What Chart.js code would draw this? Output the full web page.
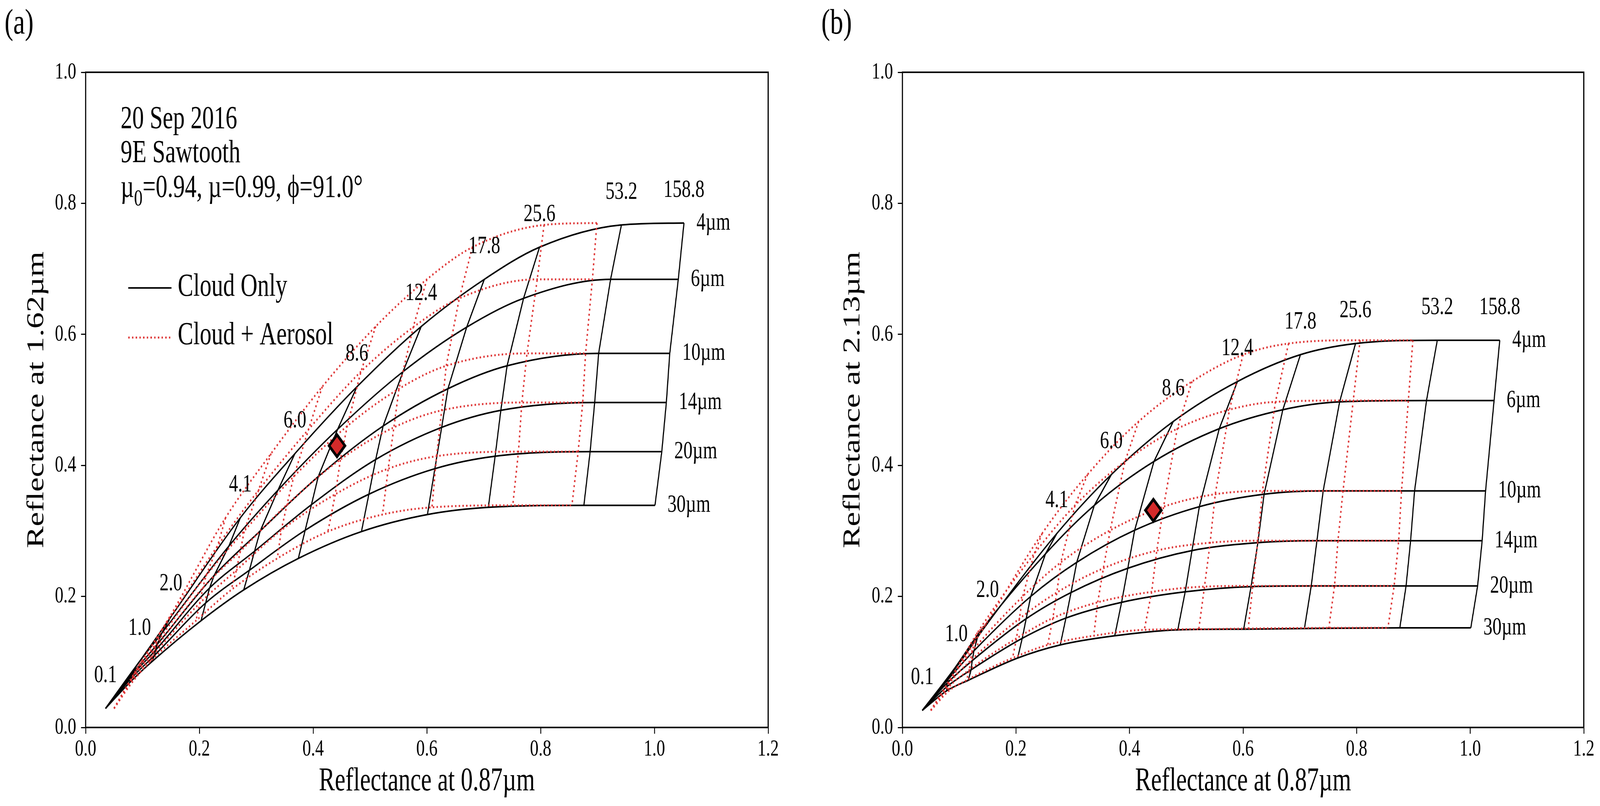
<!DOCTYPE html>
<html>
<head>
<meta charset="utf-8">
<script src="https://cdn.jsdelivr.net/npm/chart.js@4.4.1/dist/chart.umd.min.js"></script>
<style>
html, body { margin: 0; padding: 0; background: #fff; overflow: hidden; }
#wrap { width: 100vw; height: 100vh; display: flex; }
canvas { display: block; }
</style>
</head>
<body>
<div id="wrap">
  <!-- bitmaps keep the figure's 5626x2063 layout, css stretches them over the window -->
  <canvas id="chartA" width="2813" height="2063" style="width:50vw;height:100vh"></canvas>
  <canvas id="chartB" width="2813" height="2063" style="width:50vw;height:100vh"></canvas>
</div>
<script>
// optical depth and effective radius of the lookup table
const tauLabels = ['0.1', '1.0', '2.0', '4.1', '6.0', '8.6', '12.4', '17.8', '25.6', '53.2', '158.8'];
const radiusLabels = ['4µm', '6µm', '10µm', '14µm', '20µm', '30µm'];

const xTicks = [0, 0.2, 0.4, 0.6, 0.8, 1.0, 1.2];
const yTicks = [0, 0.2, 0.4, 0.6, 0.8, 1.0];

// reflectance at 0.87um, one row per radius, one column per tau (same for both panels)
const cloudX = [
  [0.035, 0.095, 0.150, 0.272, 0.368, 0.477, 0.590, 0.701, 0.798, 0.942, 1.052],
  [0.035, 0.090, 0.134, 0.252, 0.338, 0.443, 0.558, 0.670, 0.770, 0.923, 1.042],
  [0.035, 0.081, 0.126, 0.226, 0.307, 0.409, 0.523, 0.637, 0.741, 0.902, 1.027],
  [0.035, 0.079, 0.123, 0.218, 0.297, 0.397, 0.510, 0.626, 0.730, 0.895, 1.021],
  [0.035, 0.078, 0.121, 0.211, 0.288, 0.386, 0.498, 0.614, 0.720, 0.887, 1.013],
  [0.035, 0.078, 0.116, 0.203, 0.278, 0.374, 0.485, 0.601, 0.708, 0.876, 1.001]
];
// cloud + aerosol, reflectance at 0.87um
const aeroX = [
  [0.050, 0.099, 0.148, 0.246, 0.326, 0.416, 0.510, 0.600, 0.680, 0.806, 0.899],
  [0.050, 0.094, 0.131, 0.232, 0.304, 0.392, 0.484, 0.576, 0.657, 0.794, 0.891],
  [0.050, 0.085, 0.123, 0.212, 0.279, 0.366, 0.460, 0.551, 0.634, 0.776, 0.879],
  [0.050, 0.083, 0.120, 0.206, 0.272, 0.354, 0.448, 0.542, 0.626, 0.767, 0.874],
  [0.050, 0.082, 0.118, 0.201, 0.265, 0.344, 0.439, 0.532, 0.617, 0.761, 0.866],
  [0.050, 0.082, 0.113, 0.194, 0.256, 0.337, 0.426, 0.522, 0.609, 0.751, 0.855]
];
// (a) reflectance at 1.62um (aerosol leaves it almost unchanged)
const reflA = [
  [0.029, 0.101, 0.169, 0.320, 0.418, 0.520, 0.612, 0.684, 0.733, 0.767, 0.770],
  [0.029, 0.095, 0.144, 0.277, 0.362, 0.455, 0.543, 0.611, 0.655, 0.684, 0.684],
  [0.029, 0.081, 0.127, 0.232, 0.300, 0.383, 0.460, 0.517, 0.552, 0.571, 0.571],
  [0.029, 0.077, 0.118, 0.213, 0.269, 0.340, 0.409, 0.458, 0.484, 0.496, 0.496],
  [0.029, 0.073, 0.110, 0.190, 0.240, 0.301, 0.356, 0.395, 0.414, 0.421, 0.421],
  [0.029, 0.069, 0.100, 0.163, 0.210, 0.258, 0.299, 0.325, 0.336, 0.339, 0.339]
];
// (b) reflectance at 2.13um
const reflB = [
  [0.026, 0.092, 0.159, 0.296, 0.386, 0.467, 0.528, 0.569, 0.586, 0.591, 0.591],
  [0.026, 0.088, 0.143, 0.265, 0.339, 0.406, 0.456, 0.485, 0.497, 0.499, 0.499],
  [0.026, 0.074, 0.117, 0.200, 0.252, 0.301, 0.337, 0.356, 0.361, 0.361, 0.361],
  [0.026, 0.068, 0.102, 0.166, 0.206, 0.243, 0.270, 0.282, 0.285, 0.285, 0.285],
  [0.026, 0.062, 0.088, 0.136, 0.167, 0.191, 0.207, 0.215, 0.216, 0.216, 0.216],
  [0.026, 0.056, 0.072, 0.106, 0.126, 0.140, 0.149, 0.150, 0.151, 0.152, 0.152]
];

// measured pixel
const obsX = 0.442;
const obsA = 0.430;
const obsB = 0.3315;

const SERIF = '"Liberation Serif", "Times New Roman", serif';
const RED = '#de3535';

const blackStyle = { borderColor: '#000', borderWidth: 4, pointRadius: 0, showLine: true, fill: false, order: 2 };
const redStyle = { borderColor: RED, borderWidth: 5, borderDash: [5, 8], pointRadius: 0, showLine: true, fill: false, order: 1 };

function radiusLines(xs, ys, style) {
  return xs.map((row, r) => Object.assign({
    data: row.map((x, t) => ({ x: x, y: ys[r][t] })),
    cubicInterpolationMode: 'monotone'
  }, style));
}

function tauLines(xs, ys, style) {
  const out = [];
  for (let t = 1; t < tauLabels.length; t++) {
    out.push(Object.assign({
      data: xs.map((row, r) => ({ x: row[t], y: ys[r][t] })),
      tension: 0
    }, style));
  }
  return out;
}

function buildDatasets(ys, obsY) {
  return [
    { data: [{ x: obsX, y: obsY }], showLine: false, pointStyle: 'rectRot', pointRadius: 28,
      pointBackgroundColor: '#d42a2a', pointBorderColor: '#000', pointBorderWidth: 8, order: 0 }
  ].concat(
    radiusLines(aeroX, ys, redStyle),
    tauLines(aeroX, ys, redStyle),
    radiusLines(cloudX, ys, blackStyle),
    tauLines(cloudX, ys, blackStyle)
  );
}

// frame, tau / radius labels, legend and annotation
const lutText = {
  id: 'lutText',
  afterDraw(chart, args, opts) {
    const ctx = chart.ctx;
    const xs = chart.scales.x, ysc = chart.scales.y;
    const area = chart.chartArea;
    ctx.save();
    ctx.strokeStyle = '#000';
    ctx.lineWidth = 4;
    ctx.strokeRect(area.left, area.top, area.right - area.left, area.bottom - area.top);

    ctx.fillStyle = '#000';
    ctx.font = '64px ' + SERIF;
    ctx.textAlign = 'center';
    ctx.textBaseline = 'middle';
    tauLabels.forEach((lab, t) => {
      ctx.fillText(lab, xs.getPixelForValue(cloudX[0][t]), ysc.getPixelForValue(opts.ys[0][t]) - 84);
    });
    ctx.textAlign = 'left';
    radiusLabels.forEach((lab, r) => {
      const last = tauLabels.length - 1;
      ctx.fillText(lab, xs.getPixelForValue(cloudX[r][last]) + 44, ysc.getPixelForValue(opts.ys[r][last]));
    });

    ctx.textBaseline = 'alphabetic';
    ctx.font = '92px ' + SERIF;
    ctx.fillText(opts.panel, opts.panelX, 86);

    if (opts.notes) {
      const L = area.left + 123;
      ctx.font = '82px ' + SERIF;
      ctx.fillText('20 Sep 2016', L, 328);
      ctx.fillText('9E Sawtooth', L, 415);
      let px = L;
      ctx.fillText('µ', px, 504);
      px += ctx.measureText('µ').width;
      ctx.font = '60px ' + SERIF;
      ctx.fillText('0', px, 526);
      px += ctx.measureText('0').width;
      ctx.font = '82px ' + SERIF;
      ctx.fillText('=0.94, µ=0.99, ϕ=91.0°', px, 504);

      // legend
      ctx.lineWidth = 4;
      ctx.strokeStyle = '#000';
      ctx.beginPath(); ctx.moveTo(451, 737); ctx.lineTo(603, 737); ctx.stroke();
      ctx.strokeStyle = RED;
      ctx.lineWidth = 5;
      ctx.setLineDash([5, 8]);
      ctx.beginPath(); ctx.moveTo(451, 864); ctx.lineTo(603, 864); ctx.stroke();
      ctx.setLineDash([]);
      ctx.textBaseline = 'middle';
      ctx.fillText('Cloud Only', 625, 735);
      ctx.fillText('Cloud + Aerosol', 625, 859);
    }
    ctx.restore();
  }
};

function makeOptions(cfg) {
  const tickFont = { family: SERIF, size: 60 };
  const titleFont = { family: SERIF, size: 84 };
  return {
    responsive: false,
    animation: false,
    devicePixelRatio: 1,
    events: [],
    layout: { padding: { left: 0, right: cfg.padRight, top: 185, bottom: 0 } },
    plugins: { legend: { display: false }, tooltip: { enabled: false }, lutText: cfg },
    scales: {
      x: {
        type: 'linear', min: 0, max: 1.2,
        afterBuildTicks: s => { s.ticks = xTicks.map(v => ({ value: v })); },
        ticks: { callback: v => v.toFixed(1), font: tickFont, color: '#000', padding: 4, maxRotation: 0 },
        grid: { drawOnChartArea: false, drawTicks: true, tickLength: 16, tickWidth: 3, color: '#000' },
        border: { display: true, color: '#000', width: 4 },
        title: { display: true, text: 'Reflectance at 0.87µm', font: titleFont, color: '#000', padding: { top: 0, bottom: 12 } },
        afterFit: s => { s.height = 201; s.paddingLeft = 0; s.paddingRight = 0; }
      },
      y: {
        type: 'linear', min: 0, max: 1.0,
        afterBuildTicks: s => { s.ticks = yTicks.map(v => ({ value: v })); },
        ticks: { callback: v => v.toFixed(1), font: tickFont, color: '#000', padding: 17 },
        grid: { drawOnChartArea: false, drawTicks: true, tickLength: 16, tickWidth: 3, color: '#000' },
        border: { display: true, color: '#000', width: 4 },
        title: { display: true, text: cfg.yTitle, font: titleFont, color: '#000', padding: { top: cfg.titlePad, bottom: 0 } },
        afterFit: s => { s.width = cfg.left; s.paddingTop = 0; s.paddingBottom = 0; }
      }
    }
  };
}

new Chart(document.querySelector('#chartA').getContext('2d'), {
  type: 'scatter',
  data: { datasets: buildDatasets(reflA, obsA) },
  options: makeOptions({ ys: reflA, panel: '(a)', panelX: 16, notes: true, left: 301, padRight: 112,
    titlePad: 80, yTitle: 'Reflectance at 1.62µm' }),
  plugins: [lutText]
});

new Chart(document.querySelector('#chartB').getContext('2d'), {
  type: 'scatter',
  data: { datasets: buildDatasets(reflB, obsB) },
  options: makeOptions({ ys: reflB, panel: '(b)', panelX: 75, notes: false, left: 360, padRight: 57,
    titlePad: 137, yTitle: 'Reflectance at 2.13µm' }),
  plugins: [lutText]
});
</script>
</body>
</html>
